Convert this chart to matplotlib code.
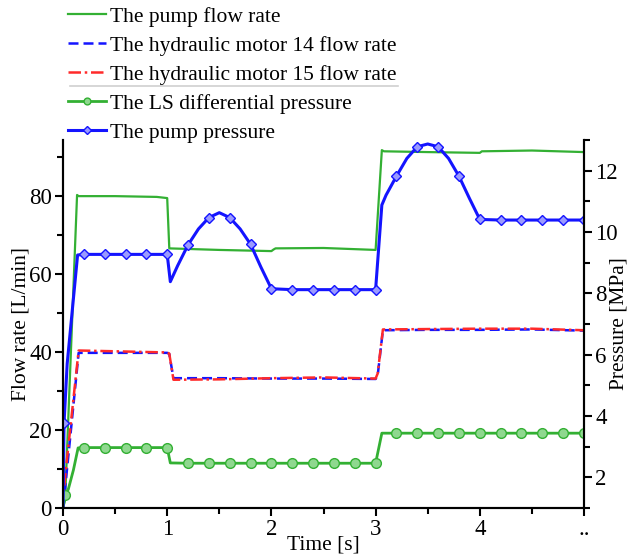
import matplotlib
matplotlib.use("Agg")
import matplotlib.pyplot as plt
from matplotlib.lines import Line2D
import numpy as np

plt.rcParams['font.family'] = ['Liberation Serif', 'DejaVu Serif']
plt.rcParams['mathtext.fontset'] = 'stix'

# ---------------- data ----------------
# pump flow rate [L/min]
t_pump_flow = [0, 0.02, 0.135, 0.15, 0.5, 0.9, 1.0, 1.02, 1.5, 2.0, 2.02, 2.04, 2.5, 3.0, 3.06, 3.08, 3.5, 4.0, 4.02, 4.5, 5.0]
q_pump_flow = [0, 2, 80.3, 80.0, 80.0, 79.8, 79.5, 66.6, 66.2, 65.9, 66.3, 66.6, 66.7, 66.2, 91.8, 91.5, 91.3, 91.1, 91.5, 91.7, 91.3]

# hydraulic motor flow rates [L/min]
t_motor = [0, 0.02, 0.15, 0.5, 1.0, 1.02, 1.06, 1.5, 2.0, 2.5, 3.0, 3.02, 3.07, 3.5, 4.0, 4.5, 5.0]
q_motor14 = [0, 5, 39.8, 39.8, 39.8, 39.5, 33.3, 33.3, 33.2, 33.2, 33.1, 34.0, 45.6, 45.7, 45.7, 45.8, 45.5]
q_motor15 = [0, 8, 40.4, 40.2, 39.9, 39.6, 32.9, 33.0, 33.3, 33.5, 33.2, 34.5, 45.8, 45.9, 46.0, 46.0, 45.6]

# LS differential pressure [MPa]
t_ls = [0, 0.02, 0.05, 0.1, 0.145, 0.2, 0.4, 0.6, 0.8, 1.0, 1.03, 1.2, 1.4, 1.6, 1.8, 2.0, 2.2, 2.4, 2.6, 2.8, 3.0,
        3.06, 3.2, 3.4, 3.6, 3.8, 4.0, 4.2, 4.4, 4.6, 4.8, 5.0]
p_ls = [1.0, 1.42, 1.6, 2.24, 2.96, 2.97, 2.97, 2.97, 2.97, 2.97, 2.47, 2.46, 2.46, 2.46, 2.46, 2.46, 2.46, 2.46, 2.46, 2.46, 2.46,
        3.44, 3.44, 3.44, 3.44, 3.44, 3.44, 3.44, 3.44, 3.44, 3.44, 3.44]
ls_marker_times = [0.02, 0.2, 0.4, 0.6, 0.8, 1.0, 1.2, 1.4, 1.6, 1.8, 2.0, 2.2, 2.4, 2.6, 2.8, 3.0,
                   3.2, 3.4, 3.6, 3.8, 4.0, 4.2, 4.4, 4.6, 4.8, 5.0]

# pump pressure [MPa]
t_pp = [0, 0.01, 0.04, 0.14, 0.2, 0.4, 0.6, 0.8, 1.0, 1.03, 1.1, 1.2, 1.3, 1.4, 1.5, 1.6, 1.7, 1.8, 1.9, 2.0,
        2.2, 2.4, 2.6, 2.8, 3.0, 3.06, 3.1, 3.2, 3.3, 3.4, 3.5, 3.6, 3.7, 3.8, 3.9, 4.0,
        4.2, 4.4, 4.6, 4.8, 5.0]
p_pp = [1.0, 3.77, 5.7, 9.25, 9.27, 9.27, 9.27, 9.27, 9.27, 8.38, 8.9, 9.58, 10.1, 10.47, 10.63, 10.47, 10.1, 9.6, 8.85, 8.15,
        8.12, 8.12, 8.12, 8.12, 8.12, 10.88, 11.2, 11.82, 12.4, 12.78, 12.87, 12.78, 12.4, 11.82, 11.1, 10.41,
        10.39, 10.39, 10.39, 10.39, 10.39]
pp_marker_times = [0.01, 0.2, 0.4, 0.6, 0.8, 1.0, 1.2, 1.4, 1.6, 1.8, 2.0, 2.2, 2.4, 2.6, 2.8, 3.0,
                   3.2, 3.4, 3.6, 3.8, 4.0, 4.2, 4.4, 4.6, 4.8, 5.0]

x_ticks = [0, 1, 2, 3, 4, 5]
x_tick_labels = ['0', '1', '2', '3', '4', '..']
y_left_ticks = [0, 20, 40, 60, 80]
y_right_ticks = [2, 4, 6, 8, 10, 12]

labels = ['The pump flow rate', 'The hydraulic motor 14 flow rate', 'The hydraulic motor 15 flow rate',
          'The LS differential pressure', 'The pump pressure']

# ---------------- styling ----------------
GREEN = '#33b033'
BLUE = '#1414ff'
RED = '#ff2a2a'
FS = 15.5
TFS = 16.5

def marker_idx(ts, mts):
    return [i for i, t in enumerate(ts) if any(abs(t - m) < 1e-9 for m in mts)]

fig = plt.figure(figsize=(6.29, 5.56), dpi=100)
ax = fig.add_axes([63/629, 1 - 508/556, (584-63)/629, (508-140)/556])
ax2 = ax.twinx()

l1, = ax.plot(t_pump_flow, q_pump_flow, color=GREEN, lw=1.6, label=labels[0])
l2, = ax.plot(t_motor, q_motor14, color=BLUE, lw=1.8, ls=(0, (4, 2)), label=labels[1])
l3, = ax.plot(t_motor, q_motor15, color=RED, lw=1.8, ls=(0, (5, 1.5, 1, 1.5)), label=labels[2])

l4, = ax2.plot(t_ls, p_ls, color=GREEN, lw=2, marker='o', ms=7, mfc='#8fd88f', mec=GREEN, mew=1,
               markevery=marker_idx(t_ls, ls_marker_times), label=labels[3])
l5, = ax2.plot(t_pp, p_pp, color=BLUE, lw=2.2, marker='D', ms=5.5, mfc='#9a9aff', mec=BLUE, mew=1,
               markevery=marker_idx(t_pp, pp_marker_times), label=labels[4])

ax.set_xlim(0, 5)
ax.set_ylim(0, 94.4)
ax2.set_ylim(1, 13)

ax.set_xticks(x_ticks)
ax.set_xticklabels(x_tick_labels)
ax.set_xticks(np.arange(0.5, 5, 1.0), minor=True)
ax.set_yticks(y_left_ticks)
ax.set_yticks([10, 30, 50, 70, 90], minor=True)
ax2.set_yticks(y_right_ticks)
ax2.set_yticks([1, 3, 5, 7, 9, 11, 13], minor=True)

for a in (ax, ax2):
    a.spines['top'].set_visible(False)
    for s in a.spines.values():
        s.set_linewidth(1.5)
    a.tick_params(which='major', direction='out', length=6, width=1.5, labelsize=TFS, pad=2)
    a.tick_params(which='minor', direction='out', length=4, width=1.5)

ax.set_xlabel('Time [s]', fontsize=FS, labelpad=-3)
ax.set_ylabel('Flow rate [L/min]', fontsize=FS, labelpad=-1)
ax2.set_ylabel('Pressure [MPa]', fontsize=FS, labelpad=-6)

leg = fig.legend(handles=[l1, l2, l3, l4, l5], loc='upper left',
                 bbox_to_anchor=(68/629, 1 - 6.5/556), frameon=False, fontsize=FS,
                 handlelength=1.75, handletextpad=0.2, labelspacing=0.42,
                 borderpad=0, borderaxespad=0, markerscale=0.7)

fig.add_artist(Line2D([70/629, 398/629], [1 - 86/556, 1 - 86/556], color='#d0d0d0', lw=1.2))

fig.savefig('out.png', dpi=100)
